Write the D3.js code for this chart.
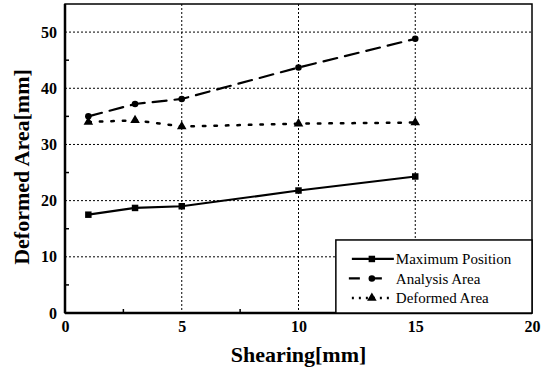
<!DOCTYPE html>
<html>
<head>
<meta charset="utf-8">
<script src="https://cdn.jsdelivr.net/npm/d3@7"></script>
</head>
<body style="margin:0; background:#fff">
<svg width="551" height="378" style="display:block"></svg>
<script>
// data
var shearing = [1, 3, 5, 10, 15];
var maxPosition = [17.5, 18.7, 19.0, 21.8, 24.3];
var analysisArea = [35.0, 37.2, 38.1, 43.7, 48.8];
var deformedArea = [34.0, 34.3, 33.2, 33.7, 33.9];
var xTicks = [0, 5, 10, 15, 20];
var yTicks = [0, 10, 20, 30, 40, 50];
var seriesNames = ["Maximum Position", "Analysis Area", "Deformed Area"];

var serif = "'Liberation Serif'";

var svg = d3.select("svg"),
    margin = {top: 4, right: 19, bottom: 65, left: 65},
    width = +svg.attr("width") - margin.left - margin.right,
    height = +svg.attr("height") - margin.top - margin.bottom,
    g = svg.append("g").attr("transform", "translate(" + margin.left + "," + margin.top + ")");

var x = d3.scaleLinear().domain([0, 20]).range([0, width]);
var y = d3.scaleLinear().domain([0, 55]).range([height, 0]);

// grid
g.append("g").selectAll("line").data([10, 20, 30, 40, 50]).enter().append("line")
    .attr("x1", 0).attr("x2", width)
    .attr("y1", function(d) { return y(d); }).attr("y2", function(d) { return y(d); })
    .attr("stroke", "#000").attr("stroke-width", 1).attr("stroke-dasharray", "2,2");
g.append("g").selectAll("line").data([5, 10, 15]).enter().append("line")
    .attr("y1", 0).attr("y2", height)
    .attr("x1", function(d) { return x(d); }).attr("x2", function(d) { return x(d); })
    .attr("stroke", "#000").attr("stroke-width", 1).attr("stroke-dasharray", "2,2");

// minor ticks
g.append("g").selectAll("line").data([5, 15, 25, 35, 45]).enter().append("line")
    .attr("x1", 0).attr("x2", 4)
    .attr("y1", function(d) { return y(d); }).attr("y2", function(d) { return y(d); })
    .attr("stroke", "#000").attr("stroke-width", 1.5);
g.append("g").selectAll("line").data([2.5, 7.5, 12.5, 17.5]).enter().append("line")
    .attr("y1", height).attr("y2", height - 4)
    .attr("x1", function(d) { return x(d); }).attr("x2", function(d) { return x(d); })
    .attr("stroke", "#000").attr("stroke-width", 1.5);

// axes
var xAxis = g.append("g")
    .attr("transform", "translate(0," + height + ")")
    .call(d3.axisBottom(x).tickValues(xTicks).tickSize(0).tickPadding(8));
xAxis.select(".domain").remove();
xAxis.selectAll("text").style("font-family", serif).style("font-size", "16px").style("font-weight", "bold");

var yAxis = g.append("g")
    .call(d3.axisLeft(y).tickValues(yTicks).tickSize(0).tickPadding(8));
yAxis.select(".domain").remove();
yAxis.selectAll("text").style("font-family", serif).style("font-size", "16px").style("font-weight", "bold");

// frame
g.append("rect").attr("width", width).attr("height", height)
    .attr("fill", "none").attr("stroke", "#000").attr("stroke-width", 1.5);
g.append("line").attr("x1", 0).attr("x2", 0).attr("y1", 0).attr("y2", height)
    .attr("stroke", "#000").attr("stroke-width", 2.5);
g.append("line").attr("x1", 0).attr("x2", width).attr("y1", height).attr("y2", height)
    .attr("stroke", "#000").attr("stroke-width", 2.5);

// series
var series = [
    {name: seriesNames[0], values: maxPosition, dash: null, width: 2.2, symbol: d3.symbolSquare, size: 42,
     lx1: 16, lx2: 58, ldash: null},
    {name: seriesNames[1], values: analysisArea, dash: "14,8", width: 2.2, symbol: d3.symbolCircle, size: 34,
     lx1: 13, lx2: 46, ldash: "11,11"},
    {name: seriesNames[2], values: deformedArea, dash: "2.5,9", width: 2.5, symbol: d3.symbolTriangle, size: 40,
     lx1: 16, lx2: 56, ldash: "2,5"}
];

var line = d3.line()
    .x(function(d) { return x(d[0]); })
    .y(function(d) { return y(d[1]); });

series.forEach(function(s) {
    var pts = shearing.map(function(v, i) { return [v, s.values[i]]; });
    g.append("path")
        .datum(pts)
        .attr("fill", "none")
        .attr("stroke", "#000")
        .attr("stroke-width", s.width)
        .attr("stroke-dasharray", s.dash)
        .attr("stroke-linecap", s.dash ? "round" : "butt")
        .attr("d", line);
    g.append("g").selectAll("path").data(pts).enter().append("path")
        .attr("transform", function(d) { return "translate(" + x(d[0]) + "," + y(d[1]) + ")"; })
        .attr("d", d3.symbol().type(s.symbol).size(s.size))
        .attr("fill", "#000");
});

// legend
var lg = g.append("g").attr("transform", "translate(" + (x(11.6)) + "," + (y(13)) + ")");
var lw = x(20) - x(11.6), lh = height - y(13);
lg.append("rect").attr("width", lw).attr("height", lh)
    .attr("fill", "#fff").attr("stroke", "#000").attr("stroke-width", 1.5);
series.forEach(function(s, i) {
    var yy = 19 + i * 19.5;
    lg.append("line").attr("x1", s.lx1).attr("x2", s.lx2).attr("y1", yy).attr("y2", yy)
        .attr("stroke", "#000").attr("stroke-width", s.width)
        .attr("stroke-dasharray", s.ldash);
    lg.append("path").attr("transform", "translate(36," + yy + ")")
        .attr("d", d3.symbol().type(s.symbol).size(s.size)).attr("fill", "#000");
    lg.append("text").attr("x", 60).attr("y", yy).attr("dy", "0.35em")
        .style("font-family", serif).style("font-size", "15px").text(s.name);
});

// titles
svg.append("text")
    .attr("x", margin.left + width / 2).attr("y", 362)
    .attr("text-anchor", "middle")
    .style("font-family", serif).style("font-size", "22px").style("font-weight", "bold")
    .text("Shearing[mm]");
svg.append("text")
    .attr("transform", "translate(29,167) rotate(-90)")
    .attr("text-anchor", "middle")
    .style("font-family", serif).style("font-size", "22px").style("font-weight", "bold")
    .text("Deformed Area[mm]");
</script>
</body>
</html>
